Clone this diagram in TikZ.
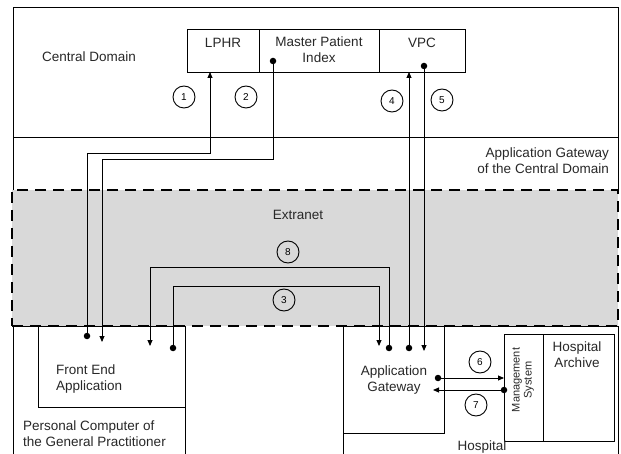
\documentclass[tikz,border=0pt]{standalone}
\usepackage{fontspec}
\setmainfont{Liberation Sans}
\usetikzlibrary{arrows.meta}
\definecolor{extragray}{RGB}{217,217,217}
\definecolor{txt}{RGB}{40,40,40}
\begin{document}
\begin{tikzpicture}[x=1pt,y=-1pt,
  box/.style={draw, line width=0.9pt, inner sep=0pt},
  lbl/.style={font=\fontsize{13.5}{16}\selectfont, text=txt, inner sep=0pt, align=center},
  num/.style={draw, circle, line width=0.9pt, minimum size=22pt, inner sep=0pt, font=\fontsize{10}{11}\selectfont},
  conn/.style={line width=0.9pt, -{Triangle[length=6pt,width=5pt]}},
  dot/.style={circle, fill=black, inner sep=0pt, minimum size=6.5pt}]
\useasboundingbox (0,0) rectangle (621,454);
\fill[white] (0,0) rectangle (621,454);
% central domain
\node[box, minimum width=605pt, minimum height=183pt] (central) at (315.5,98.5) {};
\coordinate (sepL) at (13,137);
\coordinate (sepR) at (618,137);
\draw[line width=0.9pt] (sepL) -- (sepR);
\node[lbl] (cdlabel) at (89,57) {Central Domain};
\node[lbl, align=right, anchor=east] (aglabel) at (609,161) {Application Gateway\\of the Central Domain};
% top boxes
\node[box, minimum width=72pt, minimum height=43pt] (lphr) at (223,50.5) {};
\node[box, minimum width=120pt, minimum height=43pt] (mpi) at (319,50.5) {};
\node[box, minimum width=86pt, minimum height=43pt] (vpc) at (422,50.5) {};
\node[lbl] (lphrt) at (223,43) {LPHR};
\node[lbl] (mpit) at (319,50) {Master Patient\\Index};
\node[lbl] (vpct) at (422,43) {VPC};
% extranet
\node[draw, fill=extragray, line width=2.5pt, dash pattern=on 11pt off 7pt, minimum width=606pt, minimum height=136pt, inner sep=0pt] (extranet) at (315,258) {};
\node[lbl] (extlabel) at (298,215) {Extranet};
% personal computer
\coordinate (pcBL) at (13,460);
\coordinate (pcTL) at (13,326);
\coordinate (pcTR) at (185,326);
\coordinate (pcBR) at (185,460);
\draw[line width=0.9pt] (pcBL) -- (pcTL) -- (pcTR) -- (pcBR);
\node[box, minimum width=147pt, minimum height=81pt] (fe) at (111.5,366.5) {};
\node[lbl, align=left, anchor=west] (fet) at (56,379) {Front End\\Application};
\node[lbl, align=left, anchor=west] (pct) at (23,434) {Personal Computer of\\the General Practitioner};
% hospital
\coordinate (hoBL) at (343,460);
\coordinate (hoTL) at (343,326);
\coordinate (hoTR) at (618,326);
\coordinate (hoBR) at (618,460);
\draw[line width=0.9pt] (hoBL) -- (hoTL) -- (hoTR) -- (hoBR);
\node[box, minimum width=101pt, minimum height=107pt] (ag) at (393.5,379.5) {};
\node[lbl] (agt) at (394,380) {Application\\Gateway};
\node[box, minimum width=39pt, minimum height=107pt] (ms) at (523.5,387.5) {};
\node[box, minimum width=71pt, minimum height=107pt] (ha) at (578.5,387.5) {};
\node[lbl, rotate=90, font=\fontsize{11}{12}\selectfont] (mst) at (523,380) {Management\\System};
\node[lbl] (hat) at (577,355) {Hospital\\Archive};
\node[lbl] (hot) at (482,447) {Hospital};
% ports
\node[dot] (d1) at (87,336) {};
\coordinate (t2) at (102,342);
\coordinate (t8) at (150,346);
\node[dot] (d3) at (173,348) {};
\coordinate (t3) at (379,346);
\node[dot] (d8) at (389,348) {};
\node[dot] (d4) at (409,348) {};
\coordinate (t5) at (424,351);
\node[dot] (d2) at (273,61) {};
\node[dot] (d5) at (424,66) {};
\coordinate (t1) at (210,72);
\coordinate (t4) at (409,72);
\coordinate (h1) at (0,153);
\coordinate (h2) at (0,159);
\coordinate (h8) at (0,267);
\coordinate (h3) at (0,286);
\node[dot] (d6) at (438,378) {};
\coordinate (t6) at (504,378);
\node[dot] (d7) at (504,390) {};
\coordinate (t7) at (433,390);
% connectors
\draw[conn] (d1.center) |- (t1 |- h1) -- (t1);
\draw[conn] (d2.center) |- (t2 |- h2) -- (t2);
\draw[conn] (d3.center) |- (t3 |- h3) -- (t3);
\draw[conn] (d8.center) |- (t8 |- h8) -- (t8);
\draw[conn] (d4.center) -- (t4);
\draw[conn] (d5.center) -- (t5);
\draw[conn] (d6.center) -- (t6);
\draw[conn] (d7.center) -- (t7);
% numbers
\node[num] (n1) at (184,97) {1};
\node[num] (n2) at (246,97) {2};
\node[num] (n4) at (392,101) {4};
\node[num] (n5) at (442,100) {5};
\node[num] (n8) at (288,252) {8};
\node[num] (n3) at (284,300) {3};
\node[num] (n6) at (480,362) {6};
\node[num] (n7) at (476,405) {7};
\end{tikzpicture}
\end{document}
